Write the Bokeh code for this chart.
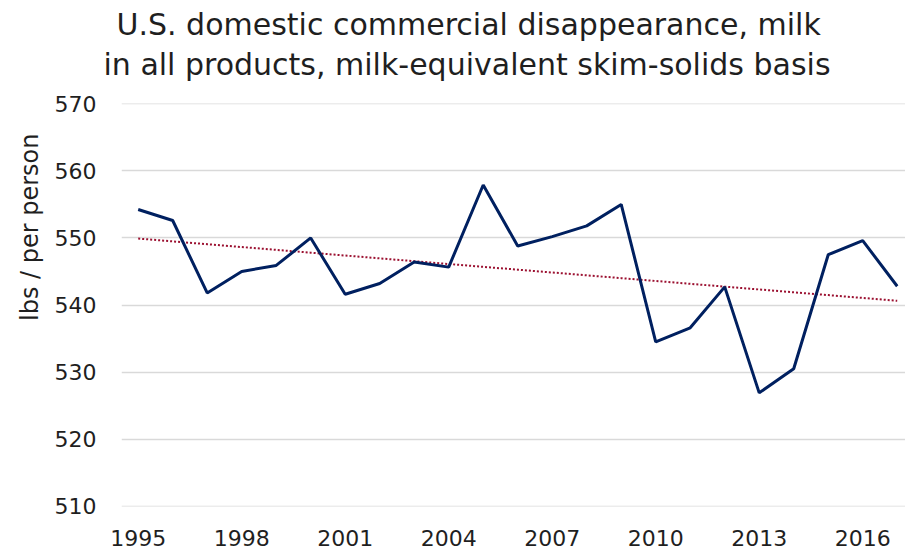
import numpy as np
from bokeh.plotting import figure
from bokeh.models import Range1d, FixedTicker, Title
from bokeh.embed import file_html
from bokeh.resources import INLINE

years = list(range(1995, 2018))
values = [554.25, 552.6, 541.8, 545.0, 545.9, 550.0, 541.6, 543.2, 546.4, 545.65,
          557.9, 548.8, 550.2, 551.8, 555.0, 534.5, 536.6, 542.7, 526.9, 530.5,
          547.5, 549.6, 542.8]
x_ticks = [1995, 1998, 2001, 2004, 2007, 2010, 2013, 2016]
y_ticks = [510, 520, 530, 540, 550, 560, 570]
title_lines = ["U.S. domestic commercial disappearance, milk",
               "in all products, milk-equivalent skim-solids basis"]
y_label = "lbs / per person"

slope, intercept = np.polyfit(years, values, 1)
trend = [slope * y + intercept for y in years]

FONT = "DejaVu Sans"
TXT = "#1f1f1f"

p = figure(width=905, height=558, output_backend="svg", toolbar_location=None,
           x_range=Range1d(1994.516, 2017.24), y_range=Range1d(509.95, 570.05),
           min_border_left=121, min_border_top=103, min_border_right=0, min_border_bottom=52)
p.outline_line_color = None
p.background_fill_color = "white"

p.line(years, trend, line_color="#9b1030", line_width=2, line_dash="2 2")
p.line(years, values, line_color="#002060", line_width=3)

for ax in (p.xaxis[0], p.yaxis[0]):
    ax.axis_line_color = None
    ax.major_tick_line_color = None
    ax.minor_tick_line_color = None
    ax.major_label_text_font = FONT
    ax.major_label_text_font_size = "22px"
    ax.major_label_text_color = TXT

p.xaxis.ticker = FixedTicker(ticks=x_ticks)
p.yaxis.ticker = FixedTicker(ticks=y_ticks)
p.xaxis.major_label_standoff = 17
p.yaxis.major_label_standoff = 19
p.xgrid.grid_line_color = None
p.ygrid.grid_line_color = "#d9d9d9"
p.ygrid.grid_line_width = 1.5

# title lines: the first added sits nearest to the frame
p.add_layout(Title(text=title_lines[1], align="left", offset=-18, standoff=43,
                   text_font=FONT, text_font_size="30px", text_font_style="normal",
                   text_color=TXT), "above")
p.add_layout(Title(text=title_lines[0], align="left", offset=-5, standoff=-36,
                   text_font=FONT, text_font_size="30px", text_font_style="normal",
                   text_color=TXT), "above")
# axis title on the left, placed toward the top
p.add_layout(Title(text=y_label, align="right", offset=30, standoff=16,
                   text_font=FONT, text_font_size="24px", text_font_style="normal",
                   text_color=TXT), "left")

open("out.html", "w").write(file_html(p, INLINE))
